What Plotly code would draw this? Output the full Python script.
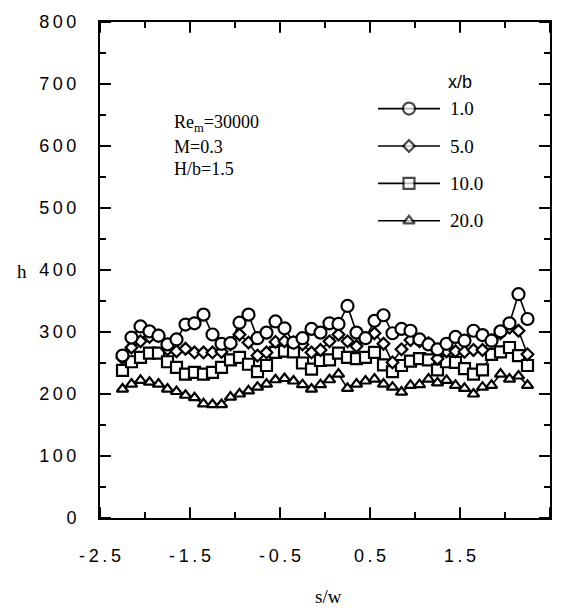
import plotly.graph_objects as go

# spanwise position s/w of the measurement stations
s_w = [-2.25, -2.15, -2.05, -1.95, -1.85, -1.75, -1.65, -1.55, -1.45, -1.35,
       -1.25, -1.15, -1.05, -0.95, -0.85, -0.75, -0.65, -0.55, -0.45, -0.35,
       -0.25, -0.15, -0.05, 0.05, 0.15, 0.25, 0.35, 0.45, 0.55, 0.65,
       0.75, 0.85, 0.95, 1.05, 1.15, 1.25, 1.35, 1.45, 1.55, 1.65,
       1.75, 1.85, 1.95, 2.05, 2.15, 2.25]

# heat transfer coefficient h at each downstream station x/b
h_x1 = [262, 291, 309, 301, 294, 280, 288, 312, 314, 328,
        296, 281, 282, 315, 328, 290, 299, 317, 306, 283,
        290, 305, 299, 314, 313, 342, 299, 290, 318, 327,
        298, 305, 302, 288, 280, 272, 281, 292, 286, 302,
        295, 286, 301, 314, 361, 321]
h_x5 = [258, 275, 285, 292, 294, 272, 269, 273, 267, 267,
        267, 268, 280, 296, 283, 262, 267, 284, 285, 283,
        280, 267, 271, 285, 296, 285, 277, 290, 298, 281,
        251, 272, 287, 285, 282, 257, 269, 269, 268, 271,
        271, 287, 298, 307, 302, 264]
h_x10 = [238, 252, 259, 266, 266, 252, 243, 232, 235, 232,
         235, 243, 255, 259, 248, 236, 246, 267, 269, 268,
         250, 240, 254, 255, 266, 259, 257, 259, 267, 247,
         236, 246, 253, 257, 255, 239, 252, 251, 241, 232,
         239, 264, 268, 275, 262, 246]
h_x20 = [208, 216, 222, 219, 216, 208, 204, 198, 194, 184,
         183, 183, 195, 200, 205, 211, 216, 223, 225, 221,
         215, 208, 215, 223, 232, 209, 216, 221, 224, 216,
         211, 203, 214, 215, 224, 218, 222, 214, 209, 200,
         211, 214, 232, 224, 229, 214]

series_labels = ["1.0", "5.0", "10.0", "20.0"]
series_values = [h_x1, h_x5, h_x10, h_x20]
series_symbols = ["circle", "diamond", "square", "triangle-up"]
series_sizes = [12, 9, 11, 10]

x_tick_vals = [-2.5, -1.5, -0.5, 0.5, 1.5, 2.5]
y_tick_vals = [0, 100, 200, 300, 400, 500, 600, 700, 800]
x_minor_vals = [-2.0, -1.0, 0.0, 1.0, 2.0]
y_minor_vals = [50, 150, 250, 350, 450, 550, 650, 750]

TS = "\u2009"  # thin space, gives the tick labels their open letter spacing
x_tick_text = [TS.join(f"{v:.1f}") for v in x_tick_vals]
y_tick_text = [TS.join(str(v)) + "\u2002\u2002" for v in y_tick_vals]

X_RANGE = [-2.5, 2.5]
Y_RANGE = [0, 800]

W, H = 566, 615
L, R, T, B = 100, 16, 14, 97
PW, PH = W - L - R, H - T - B


# page-pixel helpers for placing the key and the labels
def px(x):
    return (x - L) / PW


def py(y):
    return (H - B - y) / PH


def dx(x):
    return X_RANGE[0] + px(x) * (X_RANGE[1] - X_RANGE[0])


def dy(y):
    return Y_RANGE[0] + py(y) * (Y_RANGE[1] - Y_RANGE[0])


SANS = "Liberation Sans, Arial, sans-serif"
SERIF = "Liberation Serif, Times New Roman, serif"

fig = go.Figure()

# draw the coarsest station first so the x/b = 1 circles sit on top
for lab, vals, sym, sz in reversed(list(zip(series_labels, series_values,
                                            series_symbols, series_sizes))):
    fig.add_trace(go.Scatter(
        x=s_w, y=vals, mode="lines+markers", name=lab,
        line=dict(color="black", width=1.6),
        marker=dict(symbol=sym, size=sz, color="white",
                    line=dict(color="black", width=2.2)),
        showlegend=False, cliponaxis=False,
    ))

# hand-built key: a sample line with its symbol, then the x/b value
key_rows = [102, 140, 178, 216]
key_x0, key_x1 = 378, 440
for lab, sym, sz, yy in zip(series_labels, series_symbols, series_sizes, key_rows):
    fig.add_trace(go.Scatter(
        x=[dx(key_x0), dx((key_x0 + key_x1) / 2), dx(key_x1)],
        y=[dy(yy)] * 3,
        mode="lines+markers", showlegend=False, hoverinfo="skip",
        line=dict(color="black", width=1.6),
        marker=dict(symbol=sym, size=[0, sz, 0], color="white",
                    line=dict(color="black", width=[0, 2.2, 0])),
    ))
    fig.add_annotation(x=px(448), y=py(yy), xref="paper", yref="paper",
                       text=lab, showarrow=False, xanchor="left", yanchor="middle",
                       font=dict(family=SERIF, size=19, color="black"))

fig.add_annotation(x=px(460), y=py(75), xref="paper", yref="paper",
                   text="x/b", showarrow=False, xanchor="center", yanchor="middle",
                   font=dict(family=SANS, size=18, color="black"))

# flow conditions
for txt, yy in [("Re<sub>m</sub>=30000", 117), ("M=0.3", 141), ("H/b=1.5", 163)]:
    fig.add_annotation(x=px(172), y=py(yy), xref="paper", yref="paper",
                       text=txt, showarrow=False, xanchor="left", yanchor="middle",
                       font=dict(family=SERIF, size=18, color="black"))

# axis titles
fig.add_annotation(x=px(22), y=py(268), xref="paper", yref="paper",
                   text="h", showarrow=False, xanchor="center", yanchor="middle",
                   font=dict(family=SERIF, size=19, color="black"))
fig.add_annotation(x=px(328), y=py(598), xref="paper", yref="paper",
                   text="s/w", showarrow=False, xanchor="center", yanchor="middle",
                   font=dict(family=SERIF, size=19, color="black"))

# tick marks on all four sides, pointing into the frame
TICK_MAJOR, TICK_MINOR = 11, 6
for v in x_tick_vals + x_minor_vals:
    ln = TICK_MAJOR if v in x_tick_vals else TICK_MINOR
    for y0, y1 in [(0, ln / PH), (1, 1 - ln / PH)]:
        fig.add_shape(type="line", xref="x", yref="paper", x0=v, x1=v,
                      y0=y0, y1=y1, line=dict(color="black", width=2))
for v in y_tick_vals + y_minor_vals:
    ln = TICK_MAJOR if v in y_tick_vals else TICK_MINOR
    for x0, x1 in [(0, ln / PW), (1, 1 - ln / PW)]:
        fig.add_shape(type="line", xref="paper", yref="y", x0=x0, x1=x1,
                      y0=v, y1=v, line=dict(color="black", width=2))

axis_common = dict(
    showline=True, linecolor="black", linewidth=2, mirror=True,
    ticks="", showgrid=False, zeroline=False,
    tickfont=dict(family=SANS, size=18, color="black"),
)

fig.update_layout(
    width=W, height=H,
    margin=dict(l=L, r=R, t=T, b=B),
    paper_bgcolor="white", plot_bgcolor="white",
    xaxis=dict(range=X_RANGE, tickmode="array", tickvals=x_tick_vals,
               ticktext=x_tick_text, ticklabelstandoff=20, **axis_common),
    yaxis=dict(range=Y_RANGE, tickmode="array", tickvals=y_tick_vals,
               ticktext=y_tick_text, **axis_common),
    showlegend=False,
)

fig.write_html("out.html", config={"displayModeBar": False})
